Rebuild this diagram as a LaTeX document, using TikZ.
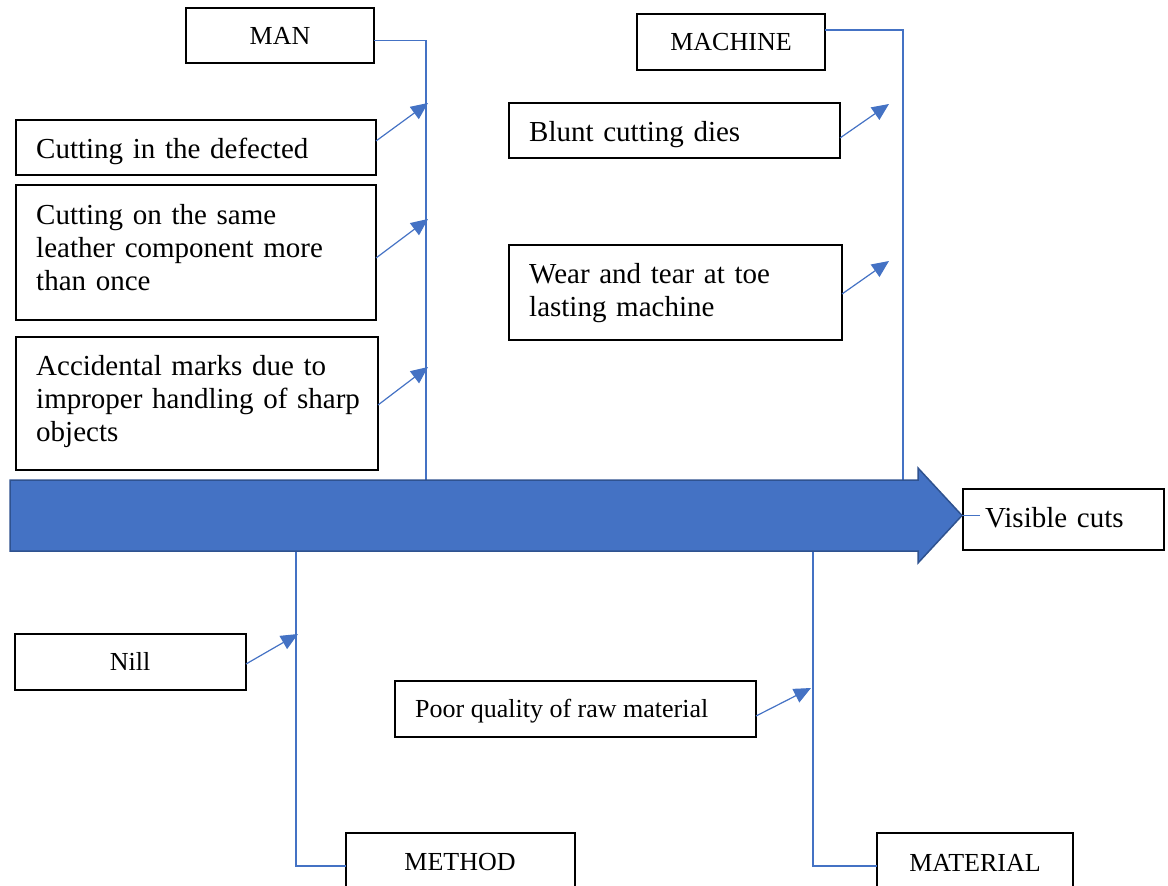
\documentclass[tikz,border=0pt]{standalone}
\usepackage{fontspec}
\setmainfont{Liberation Serif}
\usetikzlibrary{arrows.meta,calc}
\definecolor{fb}{HTML}{4472C4}
\definecolor{fbd}{HTML}{2F528F}
\tikzset{
  box/.style={draw=black, line width=1.2pt, anchor=north west, inner sep=0pt, outer sep=0pt},
  bigtxt/.style={font=\fontsize{29}{33.4}\selectfont, inner sep=0pt, anchor=base west, text width=345pt, align=left},
  smalltxt/.style={font=\fontsize{26}{30}\selectfont, inner sep=0pt, anchor=base},
  bone/.style={draw=fb, line width=1.2pt},
  cause/.style={draw=fb, line width=1.2pt, -{Triangle[length=17pt,width=15pt]}},
  bigarrow/.style={fill=fb, draw=fbd, line width=1.5pt, line join=miter},
}
\begin{document}
\begin{tikzpicture}[x=1pt, y=-1pt]
\useasboundingbox (0,0) rectangle (1168,886);
\clip (0,0) rectangle (1168,886);

% boxes
\node[box, minimum width=188pt, minimum height=55pt] (man) at (186,8) {};
\node[box, minimum width=188pt, minimum height=56pt] (machine) at (637,14) {};
\node[box, minimum width=360pt, minimum height=55pt] (b1) at (16,120) {};
\node[box, minimum width=360pt, minimum height=135pt] (b2) at (16,185) {};
\node[box, minimum width=362pt, minimum height=133pt] (b3) at (16,337) {};
\node[box, minimum width=331pt, minimum height=55pt] (blunt) at (509,103) {};
\node[box, minimum width=333pt, minimum height=95pt] (wear) at (509,245) {};
\node[box, minimum width=201pt, minimum height=61pt] (vis) at (963,489) {};
\node[box, minimum width=231pt, minimum height=56pt] (nill) at (15,634) {};
\node[box, minimum width=361pt, minimum height=56pt] (poor) at (395,681) {};
\node[box, minimum width=229pt, minimum height=70pt] (method) at (346,833) {};
\node[box, minimum width=196pt, minimum height=70pt] (material) at (877,833) {};

% texts
\node[smalltxt] (mant) at (280,44) {MAN};
\node[smalltxt] (machinet) at (731,50) {MACHINE};
\node[smalltxt] (nillt) at (130,670) {Nill};
\node[smalltxt] (methodt) at (460,870) {METHOD};
\node[smalltxt] (materialt) at (975,871) {MATERIAL};
\node[smalltxt, anchor=base west] (poort) at (415,717) {Poor quality of raw material};
\node[bigtxt] (b1t) at (36,158) {Cutting in the defected};
\node[bigtxt] (b2t) at (36,224) {Cutting on the same\\leather component more\\than once};
\node[bigtxt] (b3t) at (36,375) {Accidental marks due to\\improper handling of sharp\\objects};
\node[bigtxt] (bluntt) at (529,141) {Blunt cutting dies};
\node[bigtxt] (weart) at (529,283) {Wear and tear at toe\\lasting machine};
\node[bigtxt, text width=170pt] (vist) at (985,527) {Visible cuts};

% spine coordinates
\coordinate (manfoot) at (426,480);
\coordinate (macfoot) at (903,480);
\coordinate (methtop) at (296,551);
\coordinate (mattop) at (813,551);
\coordinate (tip) at (962,515.5);

% bones
\draw[bone] ([yshift=-5pt]man.east) -| (manfoot);
\draw[bone] ([yshift=12pt]machine.east) -| (macfoot);
\draw[bone] (methtop) |- ([yshift=2pt]method.west);
\draw[bone] (mattop) |- ([yshift=2pt]material.west);

% cause arrows
\coordinate (m1) at (428,103);
\coordinate (m2) at (428,219);
\coordinate (m3) at (428,367);
\coordinate (c1) at (889,104);
\coordinate (c2) at (889,261);
\coordinate (n1) at (298,634);
\coordinate (p1) at (811,688);
\draw[cause] ([yshift=6.5pt]b1.east) -- (m1);
\draw[cause] ([yshift=-5.5pt]b2.east) -- (m2);
\draw[cause] ([yshift=-1.5pt]b3.east) -- (m3);
\draw[cause] ([yshift=-7.5pt]blunt.east) -- (c1);
\draw[cause] ([yshift=-1.5pt]wear.east) -- (c2);
\draw[cause] ([yshift=-2pt]nill.east) -- (n1);
\draw[cause] ([yshift=-7pt]poor.east) -- (p1);

% main arrow
\draw[bigarrow] (10,480) -- (918,480) -- (918,468) -- (tip) -- (918,563) -- (918,551) -- (10,551) -- cycle;
\draw[bone] (tip) -- ([xshift=17pt]vis.west |- tip);
\end{tikzpicture}
\end{document}
